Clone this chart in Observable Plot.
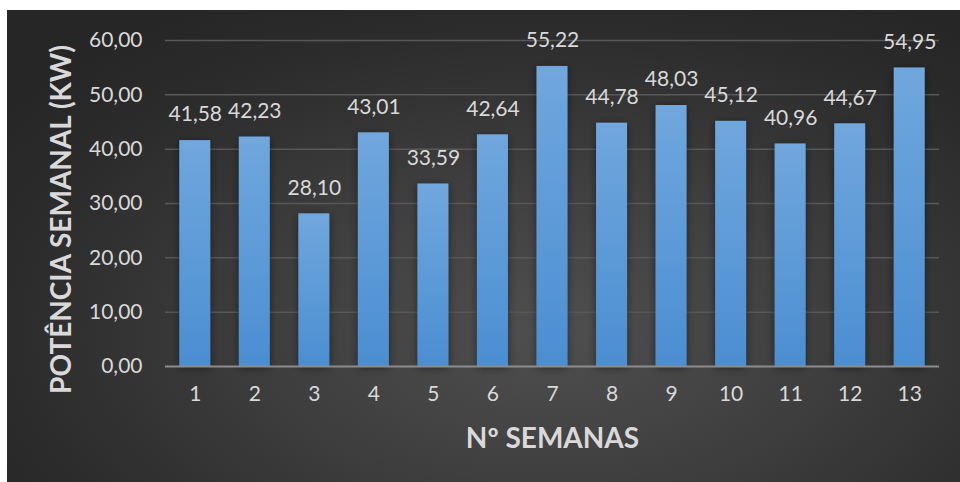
<!DOCTYPE html>
<html><head><meta charset="utf-8">
<script src="https://cdn.jsdelivr.net/npm/d3@7"></script>
<script src="https://cdn.jsdelivr.net/npm/@observablehq/plot@0.6"></script>
<style>
html,body{margin:0;padding:0;background:#fff;}
#wrap{position:relative;width:960px;height:482px;overflow:hidden;}
#bg{position:absolute;left:7px;top:10px;width:953px;height:472px;
 background:radial-gradient(ellipse 70% 80% at 57% 68%, #4f4f4f 0%, #3f3f3f 40%, #2c2c2c 80%, #262626 100%);}
#chart{position:absolute;left:0;top:0;}
</style></head>
<body><div id="wrap"><div id="bg"></div><div id="chart"></div></div>
<script>
const semanas = ["1","2","3","4","5","6","7","8","9","10","11","12","13"];
const potencia = [41.58, 42.23, 28.10, 43.01, 33.59, 42.64, 55.22, 44.78, 48.03, 45.12, 40.96, 44.67, 54.95];
const yTicks = [0, 10, 20, 30, 40, 50, 60];
const yTitle = "POTÊNCIA SEMANAL (KW)";
const xTitle = "Nº SEMANAS";

const data = semanas.map((s, i) => ({semana: s, valor: potencia[i]}));
const fmt = v => v.toFixed(2).replace(".", ",");
const txt = "#d9d9d9";

const plot = Plot.plot({
  width: 960, height: 482,
  marginLeft: 165, marginRight: 21, marginTop: 40, marginBottom: 116,
  style: {background: "transparent", fontFamily: "Lato, sans-serif", color: txt},
  x: {domain: semanas, paddingInner: 0.48, paddingOuter: 0.24, round: false, label: null, tickSize: 0, tickPadding: 20},
  y: {domain: [0, 60], ticks: yTicks, label: null, tickSize: 0, tickPadding: 23, tickFormat: fmt},
  marks: [
    Plot.ruleY(yTicks.filter(t => t > 0), {stroke: "#585858", strokeWidth: 1.5}),
    Plot.barY(data, {x: "semana", y: "valor", fill: "#5b9bd5", className: "bars"}),
    Plot.ruleY([0], {stroke: "#8c8c8c", strokeWidth: 2}),
    Plot.text(data, {x: "semana", y: "valor", text: d => fmt(d.valor), dy: -26, fill: txt, fontSize: 21, lineAnchor: "middle"}),
    Plot.text([yTitle], {frameAnchor: "left", dx: -103, dy: 16, rotate: -90, textAnchor: "middle", lineAnchor: "middle", fill: txt, fontSize: 28, fontWeight: "bold"}),
    Plot.text([xTitle], {frameAnchor: "bottom", dy: 73, textAnchor: "middle", lineAnchor: "middle", fill: txt, fontSize: 28, fontWeight: "bold"})
  ]
});

plot.querySelectorAll("[aria-label='x-axis tick label'], [aria-label='y-axis tick label']").forEach(g => {
  g.setAttribute("font-size", 21); g.setAttribute("fill", txt);
  g.querySelectorAll("text").forEach(t => { t.setAttribute("font-size", 21); t.setAttribute("fill", txt); });
});

const ns = "http://www.w3.org/2000/svg";
const defs = document.createElementNS(ns, "defs");
defs.innerHTML = `<linearGradient id="barGrad" x1="0" y1="0" x2="0" y2="1">
  <stop offset="0" stop-color="#70a7dd"/><stop offset="1" stop-color="#4b8ed2"/></linearGradient>
  <filter id="shadow" x="-30%" y="-10%" width="160%" height="130%">
  <feDropShadow dx="0" dy="2" stdDeviation="4" flood-color="#000" flood-opacity="0.45"/></filter>`;
plot.insertBefore(defs, plot.firstChild);
plot.querySelectorAll("g.bars, [aria-label='bar']").forEach(g => {
  g.setAttribute("filter", "url(#shadow)");
  g.querySelectorAll("rect").forEach(r => r.setAttribute("fill", "url(#barGrad)"));
  g.setAttribute("fill", "url(#barGrad)");
});

document.getElementById("chart").appendChild(plot);
</script></body></html>
